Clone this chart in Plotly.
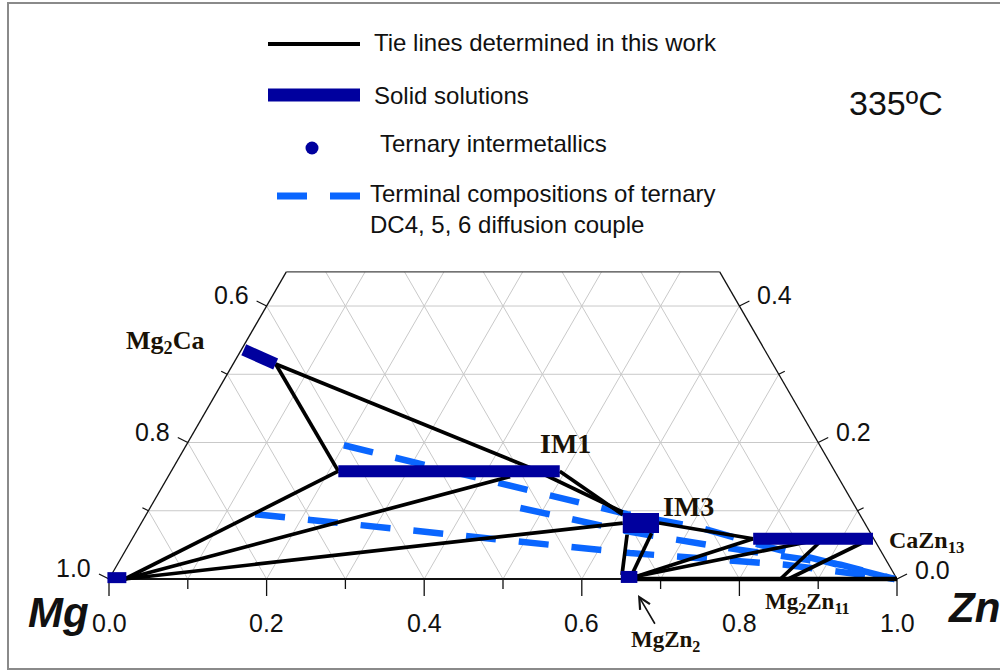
import math
import plotly.graph_objects as go

# ---------------- data: compositions as (x_Zn, x_Ca) mole fractions; x_Mg = 1 - x_Zn - x_Ca ----------------
CA_TOP = 0.45                      # the diagram is truncated at x_Ca = 0.45
grid_values = [0.1, 0.2, 0.3, 0.4, 0.5, 0.6, 0.7, 0.8, 0.9]
bottom_tick_values = [0.0, 0.1, 0.2, 0.3, 0.4, 0.5, 0.6, 0.7, 0.8, 0.9, 1.0]
bottom_label_values = [0.0, 0.2, 0.4, 0.6, 0.8, 1.0]
bottom_labels = ["0.0", "0.2", "0.4", "0.6", "0.8", "1.0"]
side_tick_values = [0.0, 0.1, 0.2, 0.3, 0.4]          # x_Ca along both slanted edges
side_label_values = [0.0, 0.2, 0.4]
left_labels = ["1.0", "0.8", "0.6"]                    # x_Mg on the left edge
right_labels = ["0.0", "0.2", "0.4"]                   # x_Ca on the right edge

# solid solutions (start, end)
ss_names = ["Mg", "Mg2Ca", "IM1", "IM3", "MgZn2", "CaZn13"]
ss_start = [(-0.003, 0.002), (0.003, 0.336), (0.212, 0.158), (0.611, 0.082), (0.648, 0.003), (0.788, 0.059)]
ss_end = [(0.021, 0.002), (0.054, 0.315), (0.493, 0.158), (0.657, 0.082), (0.669, 0.003), (0.940, 0.059)]

# tie lines determined in this work
tie_from = [(0.020, 0.000), (0.020, 0.000), (0.020, 0.000),
            (0.054, 0.315), (0.054, 0.315),
            (0.453, 0.163), (0.493, 0.158),
            (0.625, 0.065), (0.655, 0.067), (0.657, 0.082),
            (0.668, 0.004), (0.668, 0.004),
            (0.852, 0.000), (0.862, 0.000)]
tie_to = [(0.212, 0.158), (0.434, 0.150), (0.611, 0.082),
          (0.212, 0.158), (0.453, 0.163),
          (0.603, 0.098), (0.605, 0.094),
          (0.648, 0.006), (0.660, 0.010), (0.788, 0.059),
          (0.788, 0.059), (0.877, 0.059),
          (0.877, 0.059), (0.937, 0.059)]
binary_tie_from = [(0.668, 0.000)]
binary_tie_to = [(1.000, 0.000)]

# terminal compositions of the DC4, DC5, DC6 diffusion couples
dc_paths = [
    [(0.200, 0.196), (0.431, 0.138), (0.610, 0.095), (0.713, 0.075), (0.801, 0.050), (0.997, 0.000)],
    [(0.470, 0.104), (0.627, 0.069), (0.746, 0.048), (0.918, 0.021), (0.997, 0.000)],
    [(0.138, 0.095), (0.642, 0.038), (0.848, 0.021), (0.997, 0.000)],
]

legend_texts = ["Tie lines determined in this work", "Solid solutions", "Ternary intermetallics",
                "Terminal compositions of ternary<br>DC4, 5, 6 diffusion couple"]

# ---------------- styling / geometry ----------------
W, H = 1000, 671
X0_PX, Y0_PX, UNIT_PX = 109, 579, 788          # pixel position of the Mg corner and px per unit
S3 = math.sqrt(3) / 2
NAVY = "#00009e"
DCBLUE = "#0a66ff"
GRID = "#c9c9c9"
SANS = "Liberation Sans, Arial, sans-serif"
SERIF = "Liberation Serif, Times New Roman, serif"
ss_width = {"Mg": 11, "Mg2Ca": 12, "IM1": 12, "IM3": 20, "MgZn2": 12, "CaZn13": 12}


def cart(zn, ca):
    return zn + ca / 2.0, ca * S3


def px(dx):
    return dx / UNIT_PX


def lines_trace(segments, color, width, dash=None):
    xs, ys = [], []
    for seg in segments:
        for zn, ca in seg:
            x, y = cart(zn, ca)
            xs.append(x)
            ys.append(y)
        xs.append(None)
        ys.append(None)
    return go.Scatter(x=xs, y=ys, mode="lines", hoverinfo="skip", showlegend=False,
                      line=dict(color=color, width=width, dash=dash))


fig = go.Figure()

# grid lines (constant Ca, constant Zn, constant Mg), clipped at CA_TOP
grid = []
for v in grid_values:
    if v < CA_TOP:
        grid.append([(0.0, v), (1.0 - v, v)])
    grid.append([(v, 0.0), (v, min(CA_TOP, 1.0 - v))])
    top = min(CA_TOP, 1.0 - v)
    grid.append([(1.0 - v, 0.0), (1.0 - v - top, top)])
fig.add_trace(lines_trace(grid, GRID, 1))

# outline of the truncated triangle
fig.add_trace(lines_trace([[(0.0, 0.0), (0.0, CA_TOP)], [(1.0, 0.0), (1.0 - CA_TOP, CA_TOP)]], "#111111", 1.3))
fig.add_trace(lines_trace([[(0.0, CA_TOP), (1.0 - CA_TOP, CA_TOP)]], "#444444", 1.3))
fig.add_trace(lines_trace([[(0.0, 0.0), (1.0, 0.0)]], "#111111", 2))

# ticks
tx, ty = [], []
for v in bottom_tick_values:
    L = 17 if round(v * 10) % 2 == 0 else 10
    x, y = cart(v, 0.0)
    tx += [x, x, None]
    ty += [y, y - px(L), None]
for ca in side_tick_values:
    major = round(ca * 10) % 2 == 0
    dx, dy = (10, 5) if major else (6, 3)
    x, y = cart(0.0, ca)
    tx += [x, x - px(dx), None]
    ty += [y, y + px(dy), None]
    x, y = cart(1.0 - ca, ca)
    tx += [x, x + px(dx), None]
    ty += [y, y + px(dy), None]
fig.add_trace(go.Scatter(x=tx, y=ty, mode="lines", line=dict(color="#111111", width=1.3),
                         hoverinfo="skip", showlegend=False))

# diffusion-couple terminal compositions
fig.add_trace(lines_trace(dc_paths, DCBLUE, 6.5, dash="30px,23px"))

# tie lines
fig.add_trace(lines_trace([[a, b] for a, b in zip(tie_from, tie_to)], "black", 3.7))
fig.add_trace(lines_trace([[a, b] for a, b in zip(binary_tie_from, binary_tie_to)], "black", 4.5))

# solid solutions
for name, a, b in zip(ss_names, ss_start, ss_end):
    fig.add_trace(lines_trace([[a, b]], NAVY, ss_width[name]))

ann = []
# tick labels
for v, t in zip(bottom_label_values, bottom_labels):
    x, y = cart(v, 0.0)
    ann.append(dict(x=x, y=y, text=t, xanchor="center", yanchor="middle", yshift=-44,
                    font=dict(family=SANS, size=25, color="#111111")))
for ca, t in zip(side_label_values, left_labels):
    x, y = cart(0.0, ca)
    ann.append(dict(x=x, y=y, text=t, xanchor="right", yanchor="middle", xshift=-16, yshift=11,
                    font=dict(family=SANS, size=25, color="#111111")))
for ca, t in zip(side_label_values, right_labels):
    x, y = cart(1.0 - ca, ca)
    ann.append(dict(x=x, y=y, text=t, xanchor="left", yanchor="middle", xshift=16,
                    yshift=(9 if ca == 0.0 else 11),
                    font=dict(family=SANS, size=25, color="#111111")))

# corner titles
x, y = cart(0.0, 0.0)
ann.append(dict(x=x, y=y, text="<b><i>Mg</i></b>", xanchor="right", yanchor="middle", xshift=-18, yshift=-33,
                font=dict(family=SANS, size=42, color="#111111")))
x, y = cart(1.0, 0.0)
ann.append(dict(x=x, y=y, text="<b><i>Zn</i></b>", xanchor="left", yanchor="middle", xshift=49, yshift=-28,
                font=dict(family=SANS, size=42, color="#111111")))


def pxy(pxx, pyy):
    return (pxx - X0_PX) / UNIT_PX, (Y0_PX - pyy) / UNIT_PX


def label(pxx, pyy, text, size, anchor="center"):
    x, y = pxy(pxx, pyy)
    ann.append(dict(x=x, y=y, text=text, xanchor=anchor, yanchor="middle",
                    font=dict(family=SERIF, size=size, color="#1a1206")))


label(165, 342, "<b>Mg<sub>2</sub>Ca</b>", 26)
label(565, 443, "<b>IM1</b>", 28)
label(688, 506, "<b>IM3</b>", 28)
label(887, 542, "<b>CaZn<sub>13</sub></b>", 24, anchor="left")
label(807, 603, "<b>Mg<sub>2</sub>Zn<sub>11</sub></b>", 23)

# MgZn2 label with arrow pointing to the MgZn2 phase
hx, hy = pxy(638, 595)
ann.append(dict(x=hx, y=hy, ax=27, ay=46, text="<b>MgZn<sub>2</sub></b>", showarrow=True, arrowhead=5,
                arrowsize=1.4, arrowwidth=1.6, arrowcolor="#111111", standoff=0, startstandoff=2,
                font=dict(family=SERIF, size=23, color="#1a1206")))

# temperature
x, y = pxy(896, 103)
ann.append(dict(x=x, y=y, text="335ºC", xanchor="center", yanchor="middle",
                font=dict(family=SANS, size=34, color="#111111")))

for a in ann:
    a.setdefault("showarrow", False)
    a["xref"] = "x"
    a["yref"] = "y"

# legend (drawn manually in pixel positions)
def P(pxx, pyy):
    return pxx / W, 1 - pyy / H

shapes = []
x0, y0 = P(268, 44); x1, _ = P(360, 44)
shapes.append(dict(type="line", xref="paper", yref="paper", x0=x0, y0=y0, x1=x1, y1=y0,
                   line=dict(color="black", width=4)))
x0, y0 = P(268, 95); x1, _ = P(360, 95)
shapes.append(dict(type="line", xref="paper", yref="paper", x0=x0, y0=y0, x1=x1, y1=y0,
                   line=dict(color=NAVY, width=13)))
cx0, cy0 = P(305.5, 141.5); cx1, cy1 = P(318.5, 154.5)
shapes.append(dict(type="circle", xref="paper", yref="paper", x0=cx0, y0=cy1, x1=cx1, y1=cy0,
                   fillcolor=NAVY, line=dict(color=NAVY, width=0)))
x0, y0 = P(277, 196); x1, _ = P(360, 196)
shapes.append(dict(type="line", xref="paper", yref="paper", x0=x0, y0=y0, x1=x1, y1=y0,
                   line=dict(color=DCBLUE, width=7, dash="30px,23px")))
# outer frame
shapes.append(dict(type="rect", xref="paper", yref="paper", x0=8 / W, y0=1 - 669 / H, x1=1.02, y1=1 - 3 / H,
                   line=dict(color="#8a8a8a", width=2)))

legend_pos = [(372, 43), (372, 95), (378, 143), (368, 209)]
for (lx, ly), t in zip(legend_pos, legend_texts):
    x, y = P(lx, ly)
    ann.append(dict(x=x, y=y, xref="paper", yref="paper", text=t, xanchor="left", yanchor="middle",
                    align="left", showarrow=False, font=dict(family=SANS, size=24, color="#111111")))

fig.update_layout(
    width=W, height=H, margin=dict(l=0, r=0, t=0, b=0),
    paper_bgcolor="white", plot_bgcolor="rgba(0,0,0,0)",
    xaxis=dict(range=[-X0_PX / UNIT_PX, (W - X0_PX) / UNIT_PX], visible=False, fixedrange=True),
    yaxis=dict(range=[-(H - Y0_PX) / UNIT_PX, Y0_PX / UNIT_PX], visible=False, fixedrange=True),
    annotations=ann, shapes=shapes, showlegend=False,
)

fig.write_html("out.html")
